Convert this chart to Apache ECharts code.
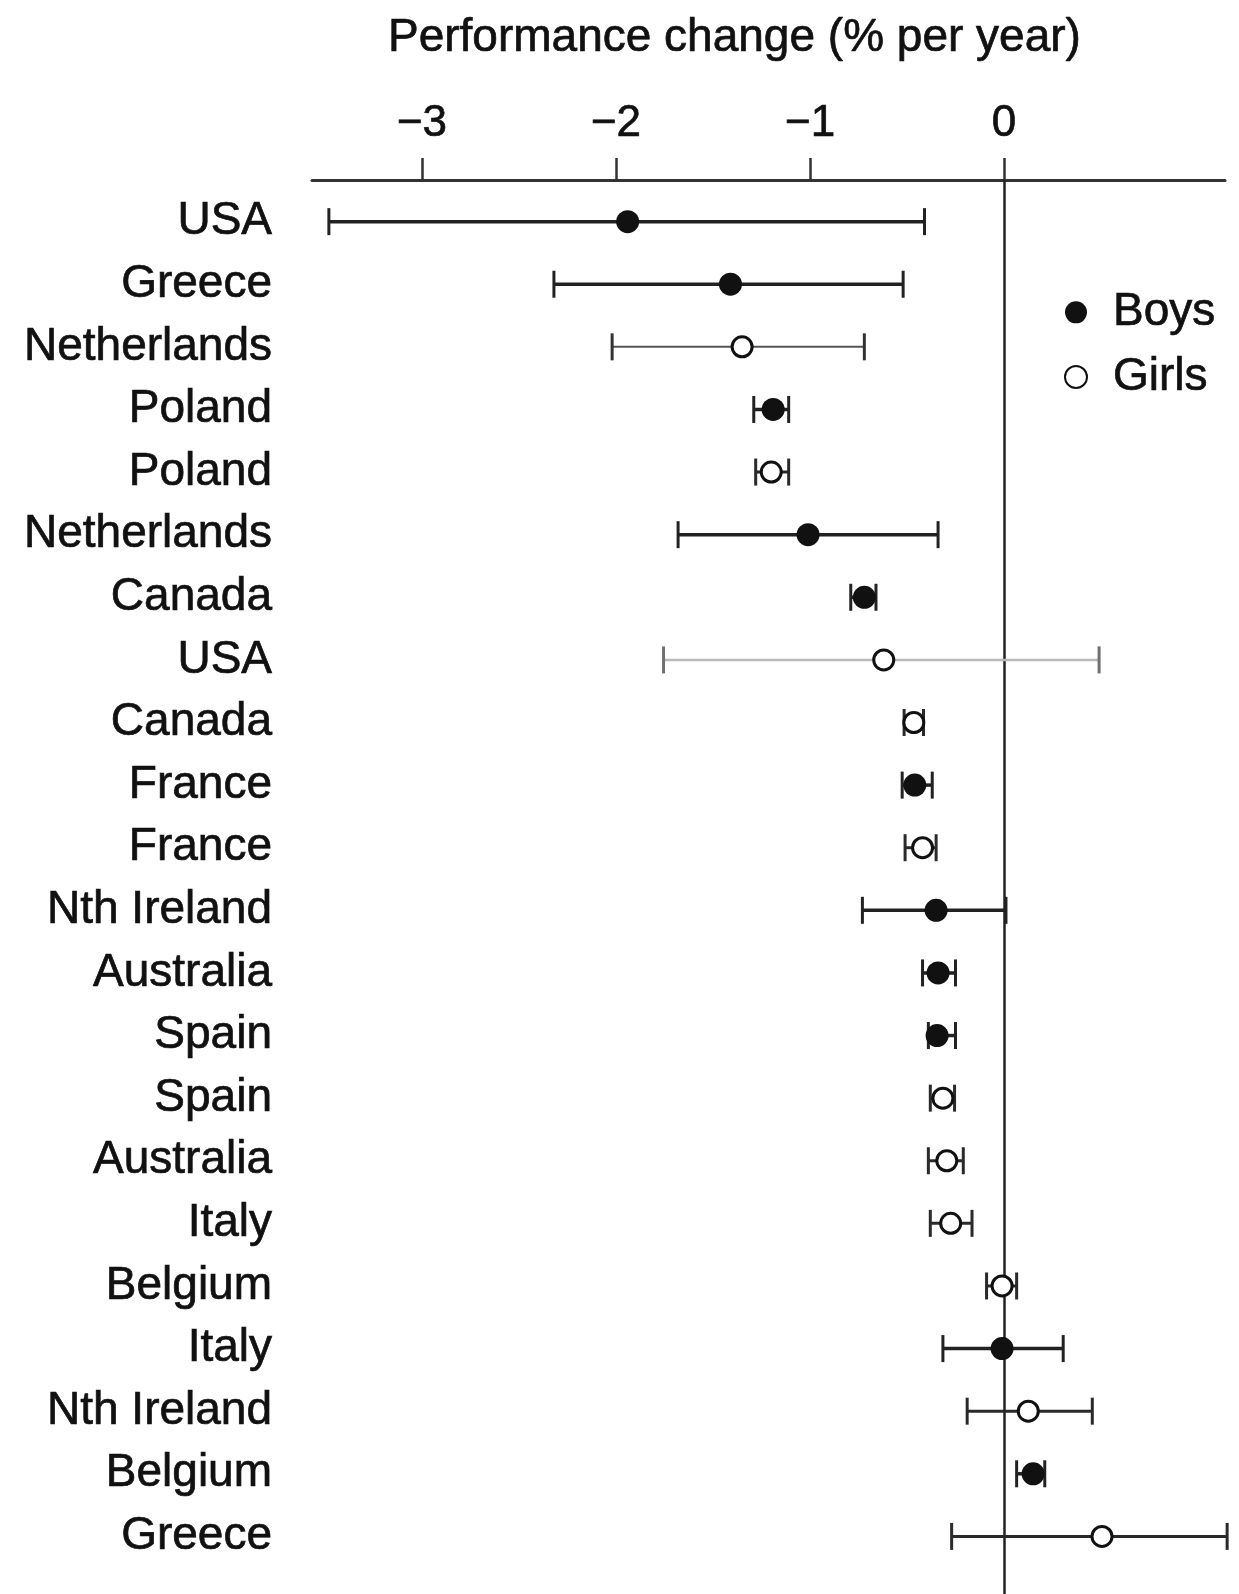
<!DOCTYPE html>
<html>
<head>
<meta charset="utf-8">
<style>
  html, body { margin: 0; padding: 0; background: #fff; }
  #chart { width: 1239px; height: 1594px; }
</style>
<script src="https://cdn.jsdelivr.net/npm/echarts@6/dist/echarts.min.js"></script>
</head>
<body>
<div id="chart"></div>
<script>
// Rows listed top to bottom
const countries = ['USA', 'Greece', 'Netherlands', 'Poland', 'Poland', 'Netherlands', 'Canada', 'USA',
  'Canada', 'France', 'France', 'Nth Ireland', 'Australia', 'Spain', 'Spain', 'Australia',
  'Italy', 'Belgium', 'Italy', 'Nth Ireland', 'Belgium', 'Greece'];
const sex = ['Boys', 'Boys', 'Girls', 'Boys', 'Girls', 'Boys', 'Boys', 'Girls',
  'Girls', 'Boys', 'Girls', 'Boys', 'Boys', 'Boys', 'Girls', 'Girls',
  'Girls', 'Girls', 'Boys', 'Girls', 'Boys', 'Girls'];
// Performance change, % per year: estimate with lower / upper interval limits
const estimate = [-1.94, -1.41, -1.35, -1.19, -1.20, -1.01, -0.72, -0.62,
  -0.465, -0.46, -0.42, -0.35, -0.34, -0.345, -0.315, -0.295,
  -0.275, -0.01, -0.01, 0.125, 0.15, 0.505];
const lower = [-3.48, -2.32, -2.02, -1.29, -1.28, -1.68, -0.79, -1.755,
  -0.515, -0.525, -0.51, -0.73, -0.42, -0.39, -0.38, -0.39,
  -0.38, -0.09, -0.315, -0.19, 0.065, -0.27];
const upper = [-0.41, -0.52, -0.72, -1.11, -1.11, -0.34, -0.66, 0.49,
  -0.415, -0.37, -0.35, 0.01, -0.25, -0.25, -0.255, -0.21,
  -0.165, 0.065, 0.305, 0.455, 0.21, 1.15];
const xTicks = [-3, -2, -1, 0];

const FONT = '"Liberation Sans", Arial, Helvetica, sans-serif';
const INK = '#111111';
// Slight outline so the regular face reads a little heavier
const HEAVY = { textBorderColor: INK, textBorderWidth: 0.7 };

// Interval line appearance; a few rows are drawn lighter
function barStyle(row) {
  if (row === 7) return { line: '#b8b8b8', cap: '#707070', width: 2.5 };
  if (row === 2) return { line: '#555555', cap: '#333333', width: 2 };
  if (sex[row] === 'Boys') return { line: '#222222', cap: '#222222', width: 3.5 };
  return { line: '#2a2a2a', cap: '#2a2a2a', width: 3 };
}

const rows = countries.map((_, i) => i);
const intervalData = rows.map(i => [lower[i], upper[i], i]);
const boysData = rows.filter(i => sex[i] === 'Boys').map(i => [estimate[i], i]);
const girlsData = rows.filter(i => sex[i] === 'Girls').map(i => [estimate[i], i]);

const chart = echarts.init(document.getElementById('chart'), null, { renderer: 'canvas' });

chart.setOption({
  backgroundColor: '#ffffff',
  animation: false,
  title: {
    text: 'Performance change (% per year)',
    left: 383,
    top: 10,
    textStyle: Object.assign({ fontFamily: FONT, fontSize: 46, fontWeight: 'normal', color: INK }, HEAVY)
  },
  legend: {
    orient: 'vertical',
    left: 1059,
    top: 284,
    itemWidth: 22,
    itemHeight: 22,
    itemGap: 18,
    icon: 'circle',
    data: ['Boys', 'Girls'],
    textStyle: Object.assign({ fontFamily: FONT, fontSize: 46, color: INK, padding: [0, 0, 0, 21] }, HEAVY)
  },
  grid: { left: 312, right: 14, top: 180, bottom: 0, containLabel: false },
  xAxis: {
    type: 'value',
    position: 'top',
    min: -3.567,
    max: 1.139,
    axisLine: { show: true, onZero: false, lineStyle: { color: '#333', width: 3 } },
    axisTick: {
      show: true, inside: false, length: 22, customValues: xTicks,
      lineStyle: { color: '#333', width: 2.5 }
    },
    axisLabel: Object.assign({
      show: true, customValues: xTicks, margin: 34,
      fontFamily: FONT, fontSize: 44, color: INK,
      formatter: v => (v < 0 ? '\u2212' + Math.abs(v) : String(v))
    }, HEAVY),
    splitLine: { show: false }
  },
  yAxis: {
    type: 'value',
    inverse: true,
    min: -0.665,
    max: 21.92,
    axisLine: { show: false, onZero: false },
    axisTick: { show: false },
    splitLine: { show: false },
    axisLabel: Object.assign({
      show: true, customValues: rows, margin: 40,
      fontFamily: FONT, fontSize: 46, color: INK,
      formatter: v => countries[Math.round(v)]
    }, HEAVY)
  },
  series: [
    {
      type: 'custom',
      name: 'interval',
      data: intervalData,
      encode: { x: [0, 1], y: 2 },
      z: 2,
      renderItem: function (params, api) {
        const row = api.value(2);
        const a = api.coord([api.value(0), row]);
        const b = api.coord([api.value(1), row]);
        const s = barStyle(row);
        const h = 13.5;
        return {
          type: 'group',
          children: [
            { type: 'line', shape: { x1: a[0], y1: a[1], x2: b[0], y2: b[1] },
              style: { stroke: s.line, lineWidth: s.width } },
            { type: 'line', shape: { x1: a[0], y1: a[1] - h, x2: a[0], y2: a[1] + h },
              style: { stroke: s.cap, lineWidth: 3 } },
            { type: 'line', shape: { x1: b[0], y1: b[1] - h, x2: b[0], y2: b[1] + h },
              style: { stroke: s.cap, lineWidth: 3 } }
          ]
        };
      },
      markLine: {
        silent: true,
        symbol: ['none', 'none'],
        label: { show: false },
        lineStyle: { color: '#222', width: 2.5, type: 'solid' },
        data: [{ xAxis: 0 }],
        z: 1
      }
    },
    {
      type: 'scatter',
      name: 'Boys',
      data: boysData,
      symbol: 'circle',
      symbolSize: 23,
      itemStyle: { color: '#111', opacity: 1 },
      z: 5
    },
    {
      type: 'scatter',
      name: 'Girls',
      data: girlsData,
      symbol: 'circle',
      symbolSize: 20,
      itemStyle: { color: '#ffffff', borderColor: '#111', borderWidth: 3, opacity: 1 },
      z: 5
    }
  ]
});
</script>
</body>
</html>
